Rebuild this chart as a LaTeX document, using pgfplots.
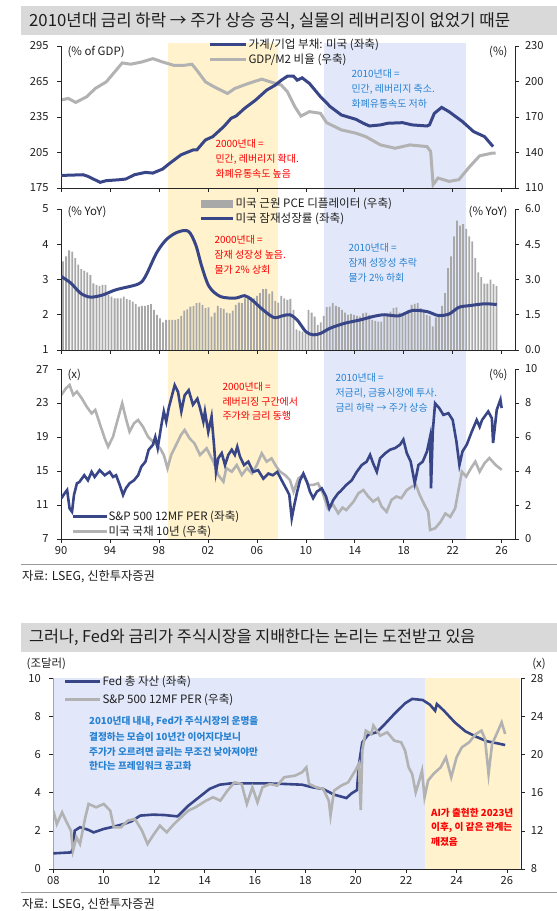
\documentclass[border=0pt]{standalone}
\usepackage{fontspec}
\setmainfont{Noto Sans CJK KR}
\usepackage{pgfplots}
\usepackage{pgfplotstable}
\pgfplotsset{compat=1.18}
\definecolor{navy}{RGB}{56,70,135}
\definecolor{gline}{RGB}{178,178,178}
\definecolor{barcol}{RGB}{168,168,168}
\definecolor{yshade}{RGB}{255,242,204}
\definecolor{bshade}{RGB}{226,232,250}
\definecolor{redt}{RGB}{250,0,0}
\definecolor{bluet}{RGB}{40,130,210}
\definecolor{banner}{RGB}{217,217,217}
\definecolor{txt}{RGB}{30,30,30}

\pgfplotstableread{
v
3.77
3.98
4.24
4.19
3.91
3.63
3.44
3.38
3.30
3.20
2.84
2.77
2.73
2.77
2.77
2.35
2.27
2.20
2.20
2.20
2.27
2.16
2.13
2.06
1.96
1.85
1.88
1.88
1.91
1.95
1.71
1.49
1.35
1.17
1.28
1.28
1.28
1.28
1.31
1.45
1.68
1.73
1.85
1.88
1.99
2.02
1.92
1.78
1.81
1.42
1.59
1.88
1.78
1.75
1.59
1.56
1.68
1.92
2.02
1.99
2.20
2.27
2.25
2.20
2.30
2.42
2.59
2.60
2.39
2.49
2.09
2.02
2.30
2.20
2.13
2.18
1.71
0.88
0.82
0.78
0.71
1.71
1.59
1.42
1.07
1.17
1.45
1.82
1.85
1.99
1.88
1.82
1.71
1.59
1.49
1.54
1.49
1.45
1.42
1.56
1.59
1.49
1.28
1.24
1.21
1.21
1.42
1.49
1.63
1.78
1.81
1.59
1.54
1.49
1.71
1.92
1.96
1.99
1.78
1.71
1.49
1.45
1.00
1.39
1.49
1.88
2.42
3.48
3.98
4.83
5.50
5.29
5.36
5.15
4.83
4.62
3.91
3.30
3.10
2.82
2.82
2.99
2.80
2.73
}\pcetable

\pgfplotsset{
  base/.style={scale only axis, anchor=south west, xmin=1990, xmax=2027.09,
    tick align=outside, major tick length=4bp,
    axis line style={draw=black!85, line width=0.6bp},
    every tick/.style={draw=black!85, line width=0.6bp},
    ticklabel style={font=\fontsize{11.2}{13}\selectfont, text=txt},
    /pgf/number format/assume math mode=true,
    xtick={1990,1994,...,2026}, xticklabels={}},
  lft/.style={axis y line*=left, axis x line*=bottom, yticklabel style={xshift=-5bp}},
  rgt/.style={axis y line*=right, axis x line=none, yticklabel style={xshift=2.5bp}},
}

\begin{document}
\begin{tikzpicture}[font=\fontsize{10}{12}\selectfont, text=txt]
\useasboundingbox (0bp,0bp) rectangle (557bp,911bp);

% ===== shading bands for top three panels
\begin{axis}[at={(61bp,372bp)}, anchor=south west, scale only axis, width=454bp, height=496bp,
  xmin=1990, xmax=2027.09, ymin=0, ymax=1, hide axis]
\addplot[fill=yshade, draw=none] coordinates {(1998.75,1) (2007.76,1)} \closedcycle;
\addplot[fill=bshade, draw=none] coordinates {(2011.5,1) (2023.07,1)} \closedcycle;
\end{axis}

% ===== Panel 1
\begin{axis}[base, rgt, at={(61bp,723bp)}, width=454bp, height=142bp, ymin=110, ymax=230, ytick={110,140,...,230}]
\addplot[gline, line width=3bp] coordinates {
(1990.0,184.3) (1990.6,185.7) (1991.2,182.3) (1992.1,187.1) (1992.8,194.1) (1993.7,199.7) (1994.5,209.5) (1995.0,215.7) (1995.7,214.6) (1996.6,216.5) (1997.5,219.3) (1998.3,216.5) (1999.2,213.7) (2000.1,213.7) (2000.7,214.6) (2001.1,209.5) (2001.8,199.7) (2002.4,196.1) (2003.6,189.9) (2004.2,194.1) (2005.3,198.3) (2006.4,202.0) (2007.1,199.7) (2008.0,196.9) (2008.5,191.3) (2009.1,178.7) (2009.6,170.8) (2010.3,174.5) (2011.2,173.1) (2011.7,165.2) (2012.9,159.1) (2014.1,156.3) (2014.9,153.4) (2016.1,146.4) (2017.3,143.6) (2018.5,146.4) (2019.9,145.0) (2020.2,140.8) (2020.4,112.8) (2020.8,118.4) (2021.7,115.6) (2022.5,117.0) (2023.4,128.2) (2024.2,137.2) (2025.2,139.4) (2025.5,139.4)};
\end{axis}
\begin{axis}[base, lft, at={(61bp,723bp)}, width=454bp, height=142bp, ymin=175, ymax=295, ytick={175,205,...,295}]
\addplot[navy, line width=3bp] coordinates {
(1990.0,185.6) (1991.8,186.2) (1992.2,184.8) (1993.2,179.8) (1993.7,181.2) (1994.8,182.0) (1995.3,182.6) (1996.0,186.2) (1996.9,188.2) (1997.5,187.6) (1998.3,191.0) (1998.9,196.0) (1999.8,203.0) (2000.8,207.2) (2001.1,207.2) (2001.8,215.6) (2002.4,218.4) (2003.3,226.9) (2003.9,233.9) (2004.3,235.8) (2005.0,242.3) (2005.9,249.3) (2006.8,257.7) (2007.5,261.9) (2008.0,266.1) (2008.5,269.5) (2009.0,269.5) (2009.3,266.1) (2009.7,268.1) (2010.3,263.3) (2011.2,252.1) (2012.0,243.7) (2012.9,236.7) (2014.1,233.0) (2014.7,229.7) (2015.2,227.4) (2016.1,228.3) (2016.7,229.7) (2017.9,230.2) (2018.7,228.3) (2019.9,227.4) (2020.1,228.3) (2020.5,238.1) (2021.1,243.1) (2021.7,239.5) (2022.8,231.1) (2023.7,222.7) (2024.6,218.4) (2025.3,210.0)};
\end{axis}

% ===== Panel 2
\begin{axis}[base, rgt, at={(61bp,561bp)}, width=454bp, height=141bp, ymin=0, ymax=6, ytick={0,1.5,...,6},
  yticklabel style={/pgf/number format/.cd, fixed, fixed zerofill, precision=1}]
\addplot[ybar, bar width=1.8bp, fill=barcol, draw=none] table[x expr=1990.17+\coordindex*0.2476, y=v] {\pcetable};
\end{axis}
\begin{axis}[base, lft, at={(61bp,561bp)}, width=454bp, height=141bp, ymin=1, ymax=5, ytick={1,2,...,5}]
\addplot[navy, line width=3bp, smooth] coordinates {
(1990.0,3.09) (1990.8,2.90) (1991.6,2.61) (1992.4,2.50) (1993.4,2.56) (1994.5,2.71) (1996.3,2.87) (1996.9,3.09) (1997.8,3.75) (1998.6,4.13) (1999.5,4.34) (2000.4,4.37) (2001.0,3.99) (2001.5,3.37) (2002.1,2.80) (2003.0,2.52) (2004.2,2.47) (2005.0,2.54) (2005.6,2.42) (2006.5,2.14) (2007.4,1.92) (2008.1,1.97) (2008.7,2.00) (2009.3,1.85) (2010.0,1.52) (2010.6,1.43) (2011.2,1.47) (2012.0,1.62) (2013.2,1.76) (2014.4,1.85) (2015.5,1.95) (2016.4,2.00) (2017.6,1.97) (2018.7,2.12) (2019.9,2.09) (2020.8,1.98) (2021.7,2.02) (2022.5,2.21) (2023.4,2.26) (2024.6,2.31) (2025.6,2.29)};
\end{axis}

% ===== Panel 3
\begin{axis}[base, rgt, at={(61bp,372bp)}, width=454bp, height=170bp, ymin=0, ymax=10, ytick={0,2,...,10}]
\addplot[gline, line width=2.6bp] coordinates {
(1990.03,8.47) (1990.4,8.86) (1990.7,9.06) (1991.0,8.47) (1991.3,8.67) (1991.7,8.27) (1992.1,7.78) (1992.5,7.39) (1992.8,7.59) (1993.2,6.71) (1993.57,5.92) (1993.85,5.43) (1994.25,6.02) (1994.66,7.10) (1995.0,7.98) (1995.3,7.10) (1995.6,6.31) (1995.96,6.80) (1996.3,7.00) (1996.7,6.60) (1997.1,6.02) (1997.5,5.73) (1997.8,5.53) (1998.1,5.33) (1998.4,4.94) (1998.7,4.16) (1999.0,4.94) (1999.4,5.53) (1999.8,6.12) (2000.1,6.41) (2000.5,5.92) (2000.9,5.63) (2001.36,4.94) (2001.9,5.33) (2002.45,4.55) (2002.85,3.76) (2003.27,3.37) (2003.5,4.17) (2003.95,3.96) (2004.36,4.35) (2004.77,3.76) (2005.2,4.17) (2005.6,3.86) (2006.0,4.35) (2006.4,5.04) (2006.8,4.55) (2007.2,4.74) (2007.6,4.25) (2007.9,3.96) (2008.3,3.76) (2008.7,3.47) (2009.0,2.78) (2009.4,3.57) (2009.8,3.76) (2010.2,3.18) (2010.6,3.18) (2011.0,3.27) (2011.4,2.68) (2011.8,1.80) (2012.25,2.00) (2012.65,1.51) (2013.0,1.85) (2013.3,1.70) (2013.9,2.20) (2014.3,2.69) (2014.7,2.88) (2015.1,2.50) (2015.5,2.20) (2015.9,2.40) (2016.2,1.90) (2016.6,1.60) (2017.0,2.30) (2017.4,2.50) (2017.8,2.40) (2018.25,2.88) (2018.65,3.08) (2019.0,3.18) (2019.3,2.60) (2019.7,2.00) (2020.0,1.60) (2020.15,0.53) (2020.56,0.63) (2021.0,1.00) (2021.4,1.50) (2021.8,1.30) (2022.2,1.80) (2022.5,2.98) (2022.75,3.96) (2023.1,3.67) (2023.5,4.17) (2023.85,4.55) (2024.2,3.96) (2024.6,4.46) (2025.0,4.76) (2025.5,4.36) (2026.0,4.07)};
\end{axis}
\begin{axis}[base, lft, at={(61bp,372bp)}, width=454bp, height=170bp, ymin=7, ymax=27, ytick={7,11,...,27},
  xticklabels={90,94,98,02,06,10,14,18,22,26}]
\addplot[navy, line width=2.6bp] coordinates {
(1990.03,11.79) (1990.3,12.38) (1990.5,12.76) (1990.7,10.6) (1990.9,10.2) (1991.06,12.18) (1991.3,13.55) (1991.5,13.7) (1991.9,14.5) (1992.2,13.9) (1992.5,14.9) (1992.75,14.3) (1993.16,15.1) (1993.57,14.5) (1993.98,14.9) (1994.25,14.3) (1994.5,14.5) (1994.8,13.35) (1995.07,12.18) (1995.3,12.96) (1995.6,13.55) (1995.96,13.9) (1996.3,14.5) (1996.56,15.5) (1996.9,16.1) (1997.16,17.5) (1997.5,18.06) (1997.7,19.0) (1997.9,17.7) (1998.2,20.4) (1998.4,22.0) (1998.6,20.8) (1998.8,22.4) (1999.07,23.9) (1999.29,25.1) (1999.56,24.3) (1999.83,22.0) (2000.1,23.9) (2000.43,24.5) (2000.78,22.8) (2001.14,23.5) (2001.36,22.4) (2001.63,20.8) (2001.76,22.0) (2002.03,19.6) (2002.3,21.4) (2002.5,18.06) (2002.66,14.9) (2002.85,16.5) (2003.13,17.1) (2003.4,15.7) (2003.67,16.9) (2003.95,17.5) (2004.2,16.9) (2004.4,17.85) (2004.62,16.7) (2004.95,15.7) (2005.3,16.1) (2005.7,14.9) (2006.1,15.1) (2006.53,14.1) (2006.94,14.7) (2007.3,14.5) (2007.67,14.9) (2008.03,13.9) (2008.38,12.96) (2008.65,12.2) (2008.85,9.43) (2009.06,11.0) (2009.3,12.6) (2009.53,13.9) (2009.8,14.7) (2010.1,13.7) (2010.34,12.57) (2010.6,11.8) (2010.9,12.57) (2011.3,12.96) (2011.65,12.0) (2011.92,10.6) (2012.25,11.6) (2012.65,12.4) (2012.8,12.57) (2013.3,13.35) (2013.75,13.9) (2014.16,14.9) (2014.57,15.7) (2014.97,16.1) (2015.25,16.9) (2015.5,15.9) (2015.8,14.9) (2016.07,16.5) (2016.5,17.1) (2016.88,17.5) (2017.3,17.7) (2017.7,18.1) (2017.97,18.7) (2018.25,17.1) (2018.57,16.1) (2018.9,13.55) (2019.2,15.7) (2019.55,16.1) (2019.9,17.3) (2020.15,19.0) (2020.23,12.96) (2020.37,19.6) (2020.56,22.96) (2020.9,22.4) (2021.24,21.6) (2021.65,21.8) (2022.0,21.0) (2022.3,18.5) (2022.55,15.7) (2022.8,17.3) (2023.15,18.1) (2023.55,19.6) (2023.96,21.0) (2024.2,20.2) (2024.4,21.0) (2024.9,22.0) (2025.2,21.2) (2025.3,18.3) (2025.6,22.2) (2025.9,23.4) (2026.0,22.4)};
\end{axis}

% ===== Panel 4
\begin{axis}[base, lft, at={(53.3bp,42bp)}, width=467.5bp, height=190.7bp, xmin=2008, xmax=2026.55, ymin=0, ymax=10, ytick={0,2,...,10},
  xtick={2008,2010,...,2026}, xticklabels={08,10,12,14,16,18,20,22,24,26}]
\addplot[fill=bshade, draw=none] coordinates {(2008,10) (2022.75,10)} \closedcycle;
\addplot[fill=yshade, draw=none] coordinates {(2022.75,10) (2026.5,10)} \closedcycle;
\addplot[navy, line width=2.6bp] coordinates {
(2008.0,0.82) (2008.7,0.87) (2008.78,1.05) (2008.85,2.01) (2009.06,2.19) (2009.4,2.05) (2009.6,1.92) (2010.0,2.10) (2010.4,2.22) (2010.8,2.36) (2011.1,2.50) (2011.45,2.80) (2011.95,2.85) (2012.4,2.83) (2012.93,2.76) (2013.36,3.32) (2013.78,3.76) (2014.2,4.20) (2014.6,4.42) (2015.05,4.49) (2015.75,4.49) (2016.46,4.49) (2017.16,4.46) (2017.87,4.42) (2018.3,4.28) (2018.7,4.20) (2019.14,3.90) (2019.63,3.72) (2019.84,3.97) (2020.05,4.14) (2020.12,5.42) (2020.26,6.64) (2020.5,7.05) (2020.83,7.17) (2021.1,7.52) (2021.53,8.13) (2021.96,8.69) (2022.24,8.92) (2022.66,8.86) (2022.94,8.62) (2023.15,8.30) (2023.22,8.65) (2023.5,8.30) (2023.93,7.69) (2024.35,7.22) (2024.77,6.94) (2025.2,6.70) (2025.62,6.59) (2025.93,6.50)};
\end{axis}
\begin{axis}[base, rgt, at={(53.3bp,42bp)}, width=467.5bp, height=190.7bp, xmin=2008, xmax=2026.55, ymin=8, ymax=28, ytick={8,12,...,28}]
\addplot[gline, line width=2.6bp] coordinates {
(2008.0,14.12) (2008.14,12.72) (2008.35,13.94) (2008.5,13.07) (2008.7,12.02) (2008.78,9.92) (2008.92,11.32) (2009.06,10.62) (2009.27,13.42) (2009.4,14.82) (2009.7,14.47) (2010.0,14.82) (2010.26,14.12) (2010.4,12.37) (2010.68,12.37) (2010.96,13.07) (2011.24,13.24) (2011.52,12.02) (2011.74,10.62) (2011.95,11.50) (2012.23,12.54) (2012.5,11.85) (2012.79,12.72) (2013.07,13.42) (2013.36,14.12) (2013.64,14.47) (2014.06,15.17) (2014.34,15.52) (2014.63,15.17) (2014.91,16.22) (2015.19,17.09) (2015.47,16.92) (2015.68,14.82) (2015.9,16.57) (2016.1,14.99) (2016.3,16.57) (2016.6,16.92) (2016.88,16.74) (2017.16,17.62) (2017.59,17.79) (2017.87,18.14) (2018.04,18.66) (2018.15,16.92) (2018.43,16.57) (2018.71,16.39) (2018.93,15.17) (2019.0,13.60) (2019.14,16.22) (2019.42,16.74) (2019.7,17.09) (2019.98,18.31) (2020.12,19.01) (2020.2,14.19) (2020.26,20.41) (2020.4,22.51) (2020.62,22.16) (2020.7,23.04) (2020.97,21.99) (2021.25,22.34) (2021.53,21.46) (2021.8,21.29) (2021.96,20.41) (2022.1,18.66) (2022.24,17.96) (2022.38,16.04) (2022.52,17.27) (2022.63,18.31) (2022.73,15.52) (2022.87,17.27) (2023.08,17.96) (2023.37,18.66) (2023.58,19.71) (2023.79,17.62) (2024.0,19.71) (2024.21,20.76) (2024.5,21.29) (2024.77,22.16) (2024.99,22.51) (2025.13,21.64) (2025.27,17.96) (2025.41,21.11) (2025.62,22.34) (2025.79,23.38) (2025.93,22.16)};
\end{axis}

\begin{scope}[shift={(0bp,911bp)}, x=1bp, y=-1bp]
\tikzset{lg/.style={anchor=west, font=\fontsize{11.6}{13}\selectfont}, un/.style={font=\fontsize{11.5}{13}\selectfont}}
% ===== title 1
\fill[banner] (21,6) rectangle (557,35);
\node[anchor=west, font=\fontsize{16.8}{18}\selectfont, inner sep=0pt] at (29,21) {2010년대 금리 하락 → 주가 상승 공식, 실물의 레버리징이 없었기 때문};
% panel 1 texts
\node[un, anchor=west] at (64,52) {(\% of GDP)};
\node[un, anchor=east] at (511,52) {(\%)};
\draw[navy, line width=3bp] (210,45) -- (246,45);
\node[lg] at (245,45) {가계/기업 부채: 미국 (좌축)};
\draw[gline, line width=3bp] (210,60) -- (246,60);
\node[lg] at (245,60) {GDP/M2 비율 (우축)};
\node[anchor=west, text=bluet] at (348,74) {2010년대 =};
\node[anchor=west, text=bluet] at (348,89) {민간, 레버리지 축소.};
\node[anchor=west, text=bluet] at (348,104) {화폐유통속도 저하};
\node[anchor=west, text=redt] at (212,144) {2000년대 =};
\node[anchor=west, text=redt] at (212,159) {민간, 레버리지 확대.};
\node[anchor=west, text=redt] at (212,174) {화폐유통속도 높음};
% panel 2 texts
\node[un, anchor=west] at (64,212) {(\% YoY)};
\node[un, anchor=east] at (511,212) {(\% YoY)};
\fill[barcol] (201,200) rectangle (233,208);
\node[lg] at (232,204) {미국 근원 PCE 디플레이터 (우축)};
\draw[navy, line width=3bp] (201,219) -- (233,219);
\node[lg] at (232,219) {미국 잠재성장률 (좌축)};
\node[anchor=west, text=redt] at (211,240) {2000년대 =};
\node[anchor=west, text=redt] at (211,255) {잠재 성장성 높음.};
\node[anchor=west, text=redt] at (211,270) {물가 2\% 상회};
\node[anchor=west, text=bluet] at (345,248) {2010년대 =};
\node[anchor=west, text=bluet] at (345,263) {잠재 성장성 추락};
\node[anchor=west, text=bluet] at (345,278) {물가 2\% 하회};
% panel 3 texts
\node[un, anchor=west] at (64,375) {(x)};
\node[un, anchor=east] at (511,375) {(\%)};
\node[anchor=west, text=redt] at (219,387) {2000년대 =};
\node[anchor=west, text=redt] at (219,401.5) {레버리징 구간에서};
\node[anchor=west, text=redt] at (219,416) {주가와 금리 동행};
\node[anchor=west, text=bluet] at (332,378) {2010년대 =};
\node[anchor=west, text=bluet] at (332,393) {저금리, 금융시장에 투사.};
\node[anchor=west, text=bluet] at (332,407.5) {금리 하락 → 주가 상승};
\draw[navy, line width=3bp] (73,517) -- (107,517);
\node[lg] at (105,517) {S\&P 500 12MF PER (좌축)};
\draw[gline, line width=3bp] (73,532) -- (107,532);
\node[lg] at (105,532) {미국 국채 10년 (우축)};
\draw[black!40, line width=0.8bp] (21,564) -- (557,564);
\node[anchor=west, font=\fontsize{12.3}{14}\selectfont, inner sep=0pt] at (22,577) {자료: LSEG, 신한투자증권};
% ===== title 2
\fill[banner] (21,623) rectangle (557,652);
\node[anchor=west, font=\fontsize{16.3}{18}\selectfont, inner sep=0pt] at (29,637.5) {그러나, Fed와 금리가 주식시장을 지배한다는 논리는 도전받고 있음};
% panel 4 texts
\node[un, anchor=west, inner sep=0pt] at (26.5,664) {(조달러)};
\node[un, anchor=east, inner sep=0pt] at (546,664) {(x)};
\draw[navy, line width=3bp] (65,682) -- (100,682);
\node[lg] at (99,682) {Fed 총 자산 (좌축)};
\draw[gline, line width=3bp] (65,699.5) -- (100,699.5);
\node[lg] at (99,699.5) {S\&P 500 12MF PER (우축)};
\begin{scope}[every node/.style={anchor=west, text=bluet, font=\bfseries\fontsize{9.7}{11}\selectfont, inner sep=0pt}]
\node at (89,722) {2010년대 내내, Fed가 주식시장의 운명을};
\node at (89,737) {결정하는 모습이 10년간 이어지다보니};
\node at (89,751.5) {주가가 오르려면 금리는 무조건 낮아져야만};
\node at (89,766) {한다는 프레임워크 공고화};
\end{scope}
\begin{scope}[every node/.style={anchor=west, text=redt, font=\bfseries\fontsize{9.7}{11}\selectfont, inner sep=0pt}]
\node at (431,813) {AI가 출현한 2023년};
\node at (431,828) {이후, 이 같은 관계는};
\node at (431,842) {깨졌음};
\end{scope}
\draw[black!40, line width=0.8bp] (21,892) -- (557,892);
\node[anchor=west, font=\fontsize{12.3}{14}\selectfont, inner sep=0pt] at (22,905) {자료: LSEG, 신한투자증권};
\end{scope}
\end{tikzpicture}
\end{document}
